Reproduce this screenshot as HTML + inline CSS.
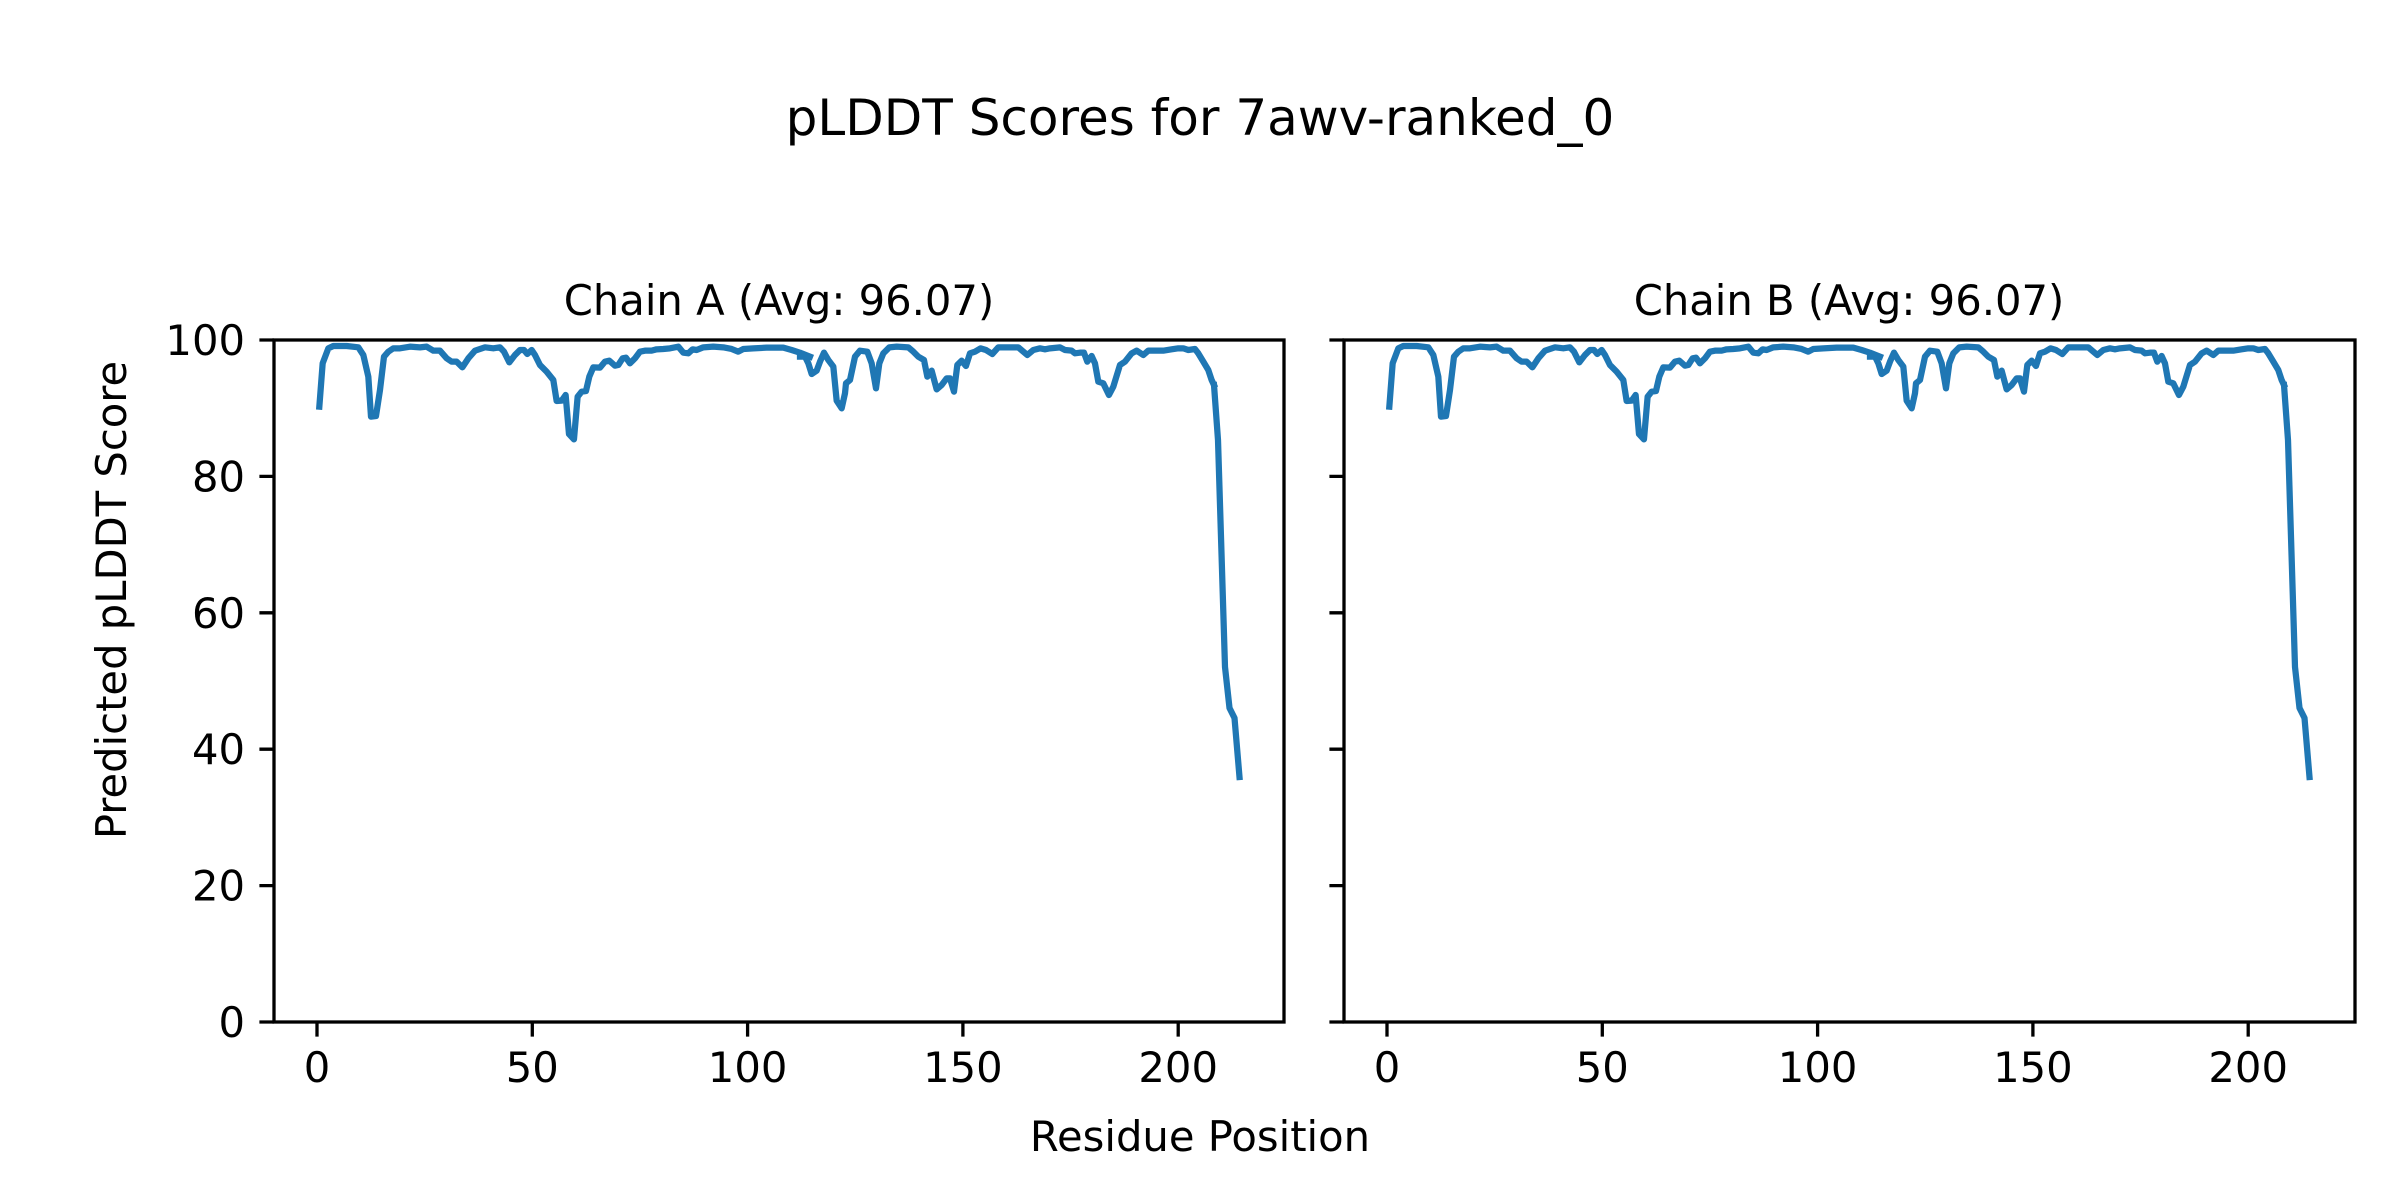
<!DOCTYPE html>
<html><head><meta charset="utf-8"><style>html,body{margin:0;padding:0;background:#fff}svg{display:block}</style></head>
<body>
<svg width="2400" height="1200" viewBox="0 0 2400 1200" xmlns="http://www.w3.org/2000/svg" font-family="DejaVu Sans, Liberation Sans, sans-serif" fill="#000">
<rect width="2400" height="1200" fill="#fff"/>
<text x="1200" y="135" font-size="50" text-anchor="middle">pLDDT Scores for 7awv-ranked_0</text>
<text x="779" y="315" font-size="41.7" text-anchor="middle">Chain A (Avg: 96.07)</text>
<text x="1849" y="315" font-size="41.7" text-anchor="middle">Chain B (Avg: 96.07)</text>
<text x="1200" y="1151" font-size="41.7" text-anchor="middle">Residue Position</text>
<text transform="translate(112,600) rotate(-90)" font-size="41.7" text-anchor="middle" dy="14">Predicted pLDDT Score</text>

<defs>
<g id="curve" fill="none" stroke="#1f77b4" stroke-linejoin="round" stroke-linecap="square">
<polyline stroke-width="18.75" transform="translate(300,330) scale(0.3333)" points="58,230 68,100 85,55 100,48 140,48 175,52 190,75 205,140 213,260 228,258 240,180 252,80 265,65 280,55 300,55 330,50 360,52 380,50 400,62 420,62 440,85 455,95 470,95 487,112 505,85 525,62 555,52 580,55 600,52 612,65 628,97 645,75 660,60 672,60 682,72 695,60 705,75 720,105 740,125 760,150 770,213 785,212 797,195 807,312 822,328 833,200 845,185 858,183 868,140 880,112 900,113 915,95 928,92 945,107 955,105 968,85 978,83 990,100 1005,85 1020,65 1035,62 1055,62 1070,58 1090,57 1110,55 1135,50 1150,68 1165,70 1178,58 1190,60 1210,52 1240,50 1270,52 1295,57 1315,65 1330,57 1360,55 1400,53 1450,53 1475,60 1500,68 1530,80"/>
<polyline stroke-width="18.75" transform="translate(790,330) scale(0.3333)" points="30,80 45,80 55,100 65,132 80,122 90,95 102,68 115,90 130,110 140,212 155,235 165,190 168,160 180,150 195,80 210,62 232,65 245,100 258,175 268,100 280,70 298,52 320,50 355,52 370,65 385,80 402,90 412,140 425,122 440,178 455,165 470,145 480,145 492,185 502,105 515,92 528,108 540,70 555,65 572,55 588,60 607,72 625,52 645,52 665,52 685,52 700,65 712,75 730,60 750,55 765,58 780,55 810,52 825,60 845,62 855,70 870,68 882,68 892,95 905,78 915,100 925,155 940,160 957,195 970,170 990,105 1005,95 1025,70 1040,62 1060,75 1075,62 1090,62 1120,62 1145,58 1165,55 1180,55 1195,60 1215,57 1225,70 1240,95 1255,120 1265,150 1272,165"/>
<polyline stroke-width="6.25" points="1214,385 1218,440 1221,537 1225,667 1229.5,708 1234.5,718 1239.5,777"/>
</g>
</defs>
<use href="#curve"/>
<g transform="translate(1070,0)"><use href="#curve"/></g>

<g fill="none" stroke="#000" stroke-width="3.3">
<rect x="274" y="340" width="1010" height="682"/>
<rect x="1344" y="340" width="1011" height="682"/>
<path d="M274 1022h-14.6M274 885.6h-14.6M274 749.2h-14.6M274 612.8h-14.6M274 476.4h-14.6M274 340h-14.6"/>
<path d="M1344 1022h-14.6M1344 885.6h-14.6M1344 749.2h-14.6M1344 612.8h-14.6M1344 476.4h-14.6M1344 340h-14.6"/>
<path d="M317 1022v14.6M532.3 1022v14.6M747.6 1022v14.6M962.9 1022v14.6M1178.2 1022v14.6"/>
<path d="M1387 1022v14.6M1602.3 1022v14.6M1817.6 1022v14.6M2032.9 1022v14.6M2248.2 1022v14.6"/>
</g>
<g font-size="41.7" text-anchor="end">
<text x="245" y="1037">0</text>
<text x="245" y="900.6">20</text>
<text x="245" y="764.2">40</text>
<text x="245" y="627.8">60</text>
<text x="245" y="491.4">80</text>
<text x="245" y="355">100</text>
</g>
<g font-size="41.7" text-anchor="middle">
<text x="317" y="1082">0</text>
<text x="532.3" y="1082">50</text>
<text x="747.6" y="1082">100</text>
<text x="962.9" y="1082">150</text>
<text x="1178.2" y="1082">200</text>
<text x="1387" y="1082">0</text>
<text x="1602.3" y="1082">50</text>
<text x="1817.6" y="1082">100</text>
<text x="2032.9" y="1082">150</text>
<text x="2248.2" y="1082">200</text>
</g>
</svg>
</body></html>
